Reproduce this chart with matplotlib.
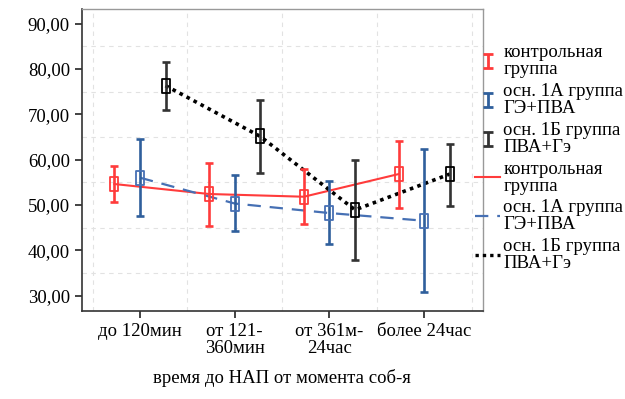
import matplotlib.pyplot as plt
import numpy as np
from matplotlib.lines import Line2D
from matplotlib.path import Path
from matplotlib.ticker import FuncFormatter

plt.rcParams['font.family'] = ['Liberation Serif', 'DejaVu Serif']

categories = ["до 120мин", "от 121-\n360мин", "от 361м-\n24час", "более 24час"]
series = ["контрольная\nгруппа", "осн. 1А группа\nГЭ+ПВА", "осн. 1Б группа\nПВА+Гэ"]

ctrl_mean = [54.6, 52.4, 51.8, 56.8]
ctrl_lo = [50.6, 45.3, 45.8, 49.3]
ctrl_hi = [58.6, 59.3, 58.0, 64.1]

g1a_mean = [56.0, 50.3, 48.2, 46.5]
g1a_lo = [47.5, 44.2, 41.4, 30.8]
g1a_hi = [64.6, 56.6, 55.3, 62.3]

g1b_mean = [76.3, 65.1, 48.9, 56.8]
g1b_lo = [70.9, 57.1, 37.8, 49.8]
g1b_hi = [81.5, 73.2, 59.8, 63.5]

bar_colors = ["#ff3b3b", "#2f5f9c", "#333333"]
mark_colors = ["#ff3b3b", "#4670b4", "#000000"]
line_colors = ["#ff3b3b", "#4670b4", "#000000"]
line_styles = ["-", (0, (6, 4)), (0, (1, 1.2))]
offsets = [-0.27, 0.0, 0.27]

rect = Path([(-0.5, -1), (0.5, -1), (0.5, 1), (-0.5, 1), (-0.5, -1)],
            [Path.MOVETO, Path.LINETO, Path.LINETO, Path.LINETO, Path.CLOSEPOLY])
ibar = Path([(-0.35, 0.5), (0.35, 0.5), (0, 0.5), (0, -0.5), (-0.35, -0.5), (0.35, -0.5)],
            [Path.MOVETO, Path.LINETO, Path.MOVETO, Path.LINETO, Path.MOVETO, Path.LINETO])

fs = 13.5
fig = plt.figure(figsize=(6.25, 3.99), dpi=100)
ax = fig.add_axes([0.1307, 0.2206, 0.6421, 0.7568])

x = np.arange(1, len(categories) + 1)
data = [(ctrl_mean, ctrl_lo, ctrl_hi), (g1a_mean, g1a_lo, g1a_hi), (g1b_mean, g1b_lo, g1b_hi)]
lw = [1.5, 1.6, 2.6]
for k, (m, lo, hi) in enumerate(data):
    xs = x + offsets[k]
    m, lo, hi = np.array(m), np.array(lo), np.array(hi)
    ax.plot(xs, m, color=line_colors[k], linestyle=line_styles[k], lw=lw[k], zorder=3)
    ax.errorbar(xs, m, yerr=[m - lo, hi - m], fmt="none", ecolor=bar_colors[k],
                elinewidth=1.9, capsize=3.2, capthick=1.9, zorder=4)
    ax.plot(xs, m, linestyle="none", marker=rect, markersize=10.5, mfc="none",
            mec=mark_colors[k], mew=1.3, zorder=5)

ax.set_xlim(0.385, 4.62)
ax.set_ylim(26.6, 93.2)
ax.set_yticks([30, 40, 50, 60, 70, 80, 90])
ax.yaxis.set_major_formatter(FuncFormatter(lambda v, p: f"{v:.2f}".replace(".", ",")))
ax.set_xticks(x)
ax.set_xticklabels(categories, fontsize=fs, linespacing=1.0)
ax.tick_params(axis="y", labelsize=fs, length=5, width=1.2, color="#222222")
ax.tick_params(axis="x", length=5, width=1.2, color="#222222")
for v in [35, 45, 55, 65, 75, 85]:
    ax.axhline(v, color="#e2e2e2", lw=0.8, ls=(0, (4, 4)), zorder=0)
for v in [0.5, 1.5, 2.5, 3.5, 4.5]:
    ax.axvline(v, color="#e2e2e2", lw=0.8, ls=(0, (4, 4)), zorder=0)
ax.set_xlabel("время до НАП от момента соб-я", fontsize=fs, labelpad=9)
for s in ["left", "bottom"]:
    ax.spines[s].set_color("#333333")
    ax.spines[s].set_linewidth(1.2)
for s in ["top", "right"]:
    ax.spines[s].set_color("#999999")
    ax.spines[s].set_linewidth(1.0)

handles = []
for k in range(3):
    handles.append(Line2D([], [], linestyle="none", marker=ibar, markersize=10,
                          mec=bar_colors[k], mew=2.0))
for k in range(3):
    handles.append(Line2D([], [], color=line_colors[k], linestyle=line_styles[k],
                          lw=[1.5, 1.6, 2.4][k]))
leg = fig.legend(handles, series + series, loc="upper left",
                 bbox_to_anchor=(0.76, 0.89), frameon=False, fontsize=fs,
                 handlelength=1.35, handletextpad=0.16, labelspacing=0.26,
                 borderaxespad=0, borderpad=0)
for t in leg.get_texts():
    t.set_linespacing(1.0)

fig.savefig("out.png", dpi=100)
